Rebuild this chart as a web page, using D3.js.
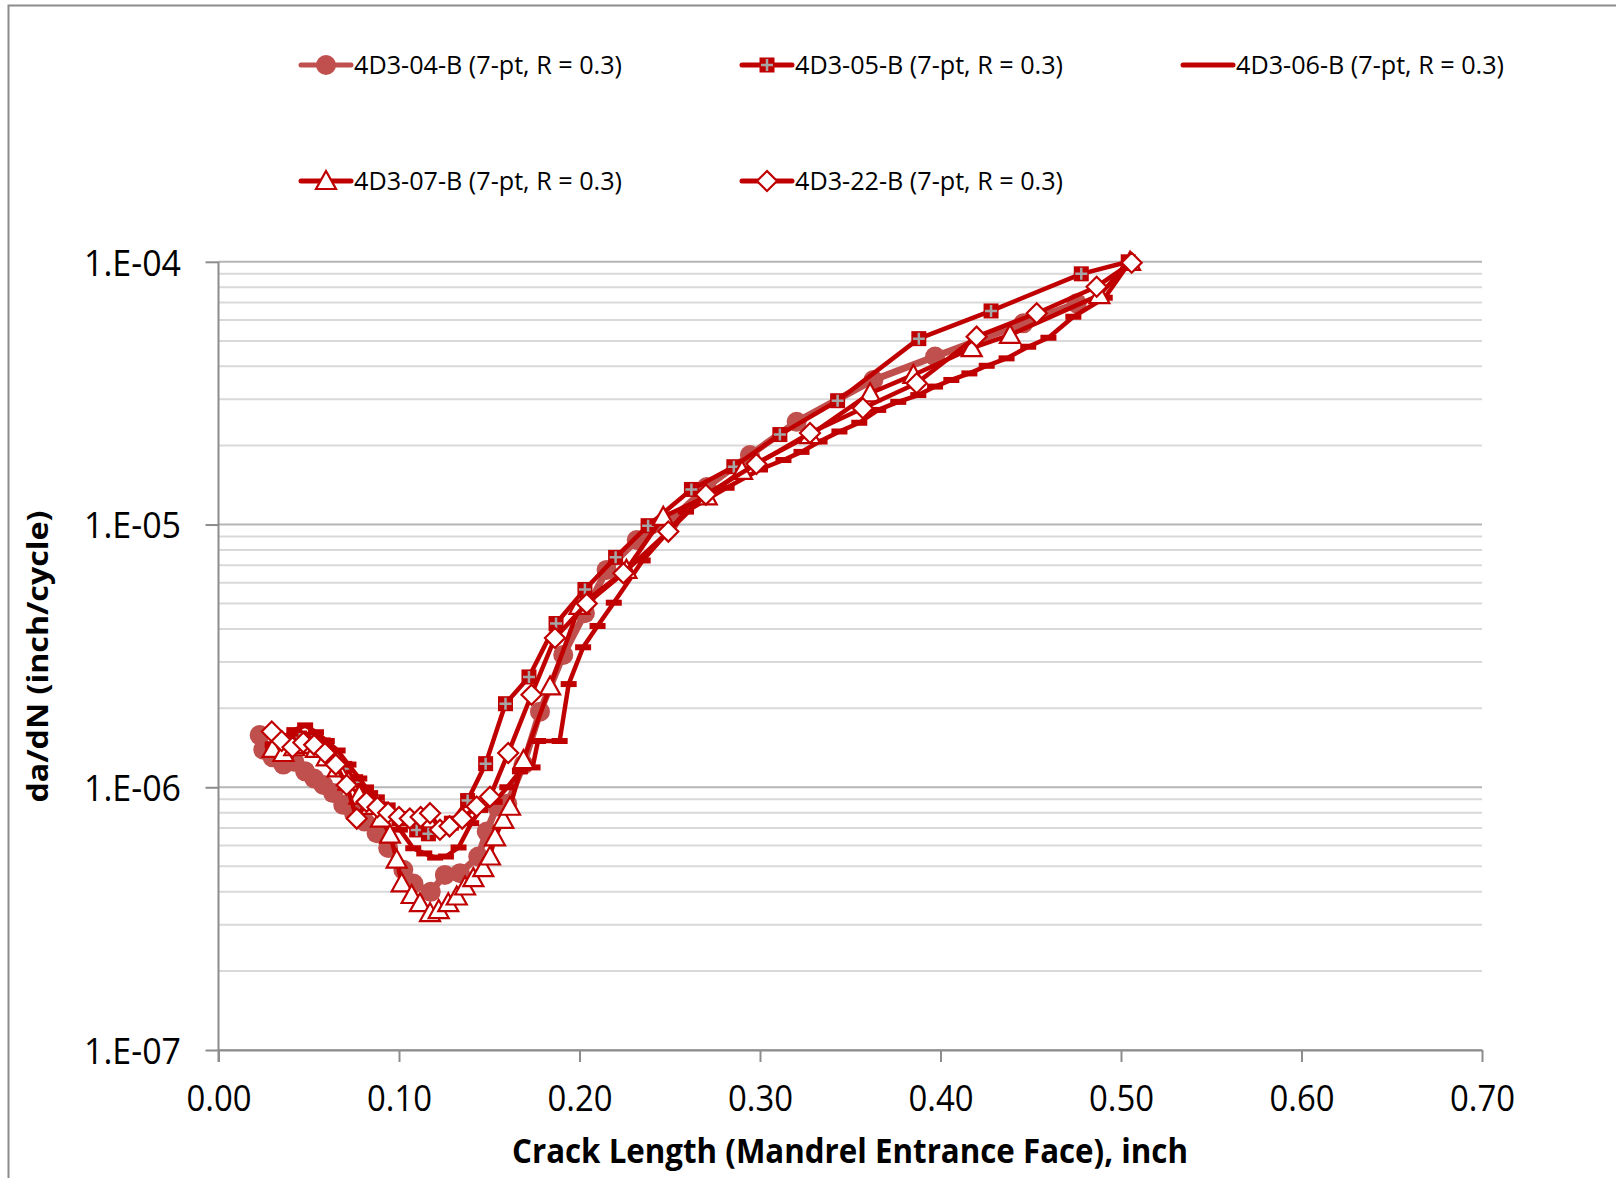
<!DOCTYPE html>
<html><head><meta charset="utf-8">
<script src="https://cdn.jsdelivr.net/npm/d3@7/dist/d3.min.js"></script>
<style>body{margin:0;background:#fff}svg{display:block}</style>
</head><body><svg id="c" width="1616" height="1178"></svg>
<script>
// ---- data ----
const seriesNames = ["4D3-04-B (7-pt, R = 0.3)","4D3-05-B (7-pt, R = 0.3)","4D3-06-B (7-pt, R = 0.3)","4D3-07-B (7-pt, R = 0.3)","4D3-22-B (7-pt, R = 0.3)"];
const xTicks = [0,0.1,0.2,0.3,0.4,0.5,0.6,0.7];
const yTicks = [1e-7,1e-6,1e-5,1e-4];
const yTickLabels = ["1.E-07","1.E-06","1.E-05","1.E-04"];
const xTitle = "Crack Length (Mandrel Entrance Face), inch";
const yTitle = "da/dN (inch/cycle)";

const s04_x = [0.0228,0.0248,0.030,0.0359,0.042,0.048,0.053,0.0581,0.0635,0.0691,0.075,0.081,0.0876,0.094,0.1024,0.108,0.1176,0.1254,0.1338,0.1439,0.1486,0.1541,0.160,0.169,0.1781,0.191,0.203,0.215,0.2317,0.2501,0.2705,0.2944,0.3203,0.3628,0.397,0.4459,0.4755];
const s04_y = [1.58e-6,1.39e-6,1.30e-6,1.22e-6,1.25e-6,1.15e-6,1.08e-6,1.02e-6,9.5e-7,8.57e-7,8.0e-7,7.4e-7,6.69e-7,5.87e-7,4.85e-7,4.3e-7,4.0e-7,4.64e-7,4.71e-7,5.45e-7,6.78e-7,8.45e-7,8.65e-7,1.22e-6,1.94e-6,3.19e-6,4.6e-6,6.72e-6,8.73e-6,1.03e-5,1.39e-5,1.84e-5,2.46e-5,3.55e-5,4.36e-5,5.83e-5,6.95e-5];

const s05_x = [0.030,0.038,0.045,0.052,0.058,0.064,0.070,0.076,0.082,0.088,0.094,0.100,0.1098,0.1163,0.129,0.138,0.148,0.159,0.172,0.187,0.203,0.220,0.238,0.262,0.2855,0.311,0.343,0.388,0.428,0.478,0.504];
const s05_y = [1.40e-6,1.50e-6,1.54e-6,1.52e-6,1.45e-6,1.32e-6,1.18e-6,1.05e-6,9.6e-7,8.8e-7,8.2e-7,7.6e-7,6.88e-7,6.65e-7,7.3e-7,8.9e-7,1.23e-6,2.08e-6,2.63e-6,4.2e-6,5.66e-6,7.5e-6,9.9e-6,1.36e-5,1.66e-5,2.2e-5,2.96e-5,5.1e-5,6.5e-5,9.0e-5,1.0e-4];

const s06_x = [0.030,0.036,0.042,0.048,0.054,0.060,0.066,0.072,0.078,0.084,0.090,0.096,0.1005,0.1079,0.114,0.120,0.126,0.133,0.140,0.1449,0.153,0.160,0.167,0.174,0.177,0.189,0.194,0.202,0.210,0.219,0.235,0.259,0.2815,0.300,0.313,0.323,0.333,0.344,0.355,0.3655,0.3766,0.3877,0.397,0.406,0.416,0.4256,0.4366,0.4486,0.4598,0.4736,0.491,0.505];
const s06_y = [1.45e-6,1.55e-6,1.65e-6,1.72e-6,1.62e-6,1.50e-6,1.38e-6,1.22e-6,1.08e-6,9.5e-7,8.6e-7,7.8e-7,6.9e-7,5.86e-7,5.6e-7,5.4e-7,5.45e-7,5.9e-7,7.3e-7,8.2e-7,8.8e-7,1.0e-6,1.15e-6,1.19e-6,1.5e-6,1.5e-6,2.47e-6,3.41e-6,4.11e-6,5.04e-6,7.3e-6,1.12e-5,1.38e-5,1.62e-5,1.76e-5,1.89e-5,2.07e-5,2.26e-5,2.44e-5,2.73e-5,2.93e-5,3.11e-5,3.35e-5,3.55e-5,3.76e-5,4.02e-5,4.29e-5,4.75e-5,5.14e-5,6.18e-5,7.3e-5,1.0e-4];

const s07_x = [0.030,0.036,0.042,0.048,0.054,0.060,0.066,0.072,0.078,0.084,0.090,0.095,0.0987,0.1015,0.107,0.1116,0.1172,0.122,0.1273,0.132,0.1366,0.1412,0.1467,0.1504,0.1532,0.1578,0.1615,0.169,0.1837,0.200,0.226,0.2464,0.2705,0.29,0.3277,0.361,0.385,0.4173,0.4385,0.488,0.505];
const s07_y = [1.40e-6,1.35e-6,1.42e-6,1.45e-6,1.40e-6,1.30e-6,1.18e-6,1.05e-6,9.3e-7,8.5e-7,7.6e-7,6.6e-7,5.3e-7,4.31e-7,3.89e-7,3.62e-7,3.32e-7,3.41e-7,3.62e-7,3.84e-7,4.19e-7,4.51e-7,4.92e-7,5.45e-7,6.45e-7,7.52e-7,8.43e-7,1.27e-6,2.42e-6,4.9e-6,6.72e-6,1.07e-5,1.28e-5,1.6e-5,2.19e-5,3.16e-5,3.71e-5,4.69e-5,5.27e-5,7.47e-5,1.0e-4];

const s22_x = [0.0295,0.035,0.041,0.047,0.053,0.059,0.065,0.071,0.0766,0.082,0.088,0.094,0.100,0.106,0.112,0.1172,0.1227,0.128,0.135,0.143,0.1504,0.1605,0.1734,0.1864,0.204,0.2243,0.2492,0.27,0.298,0.3277,0.357,0.3868,0.42,0.4533,0.4865,0.5059];
const s22_y = [1.63e-6,1.50e-6,1.42e-6,1.48e-6,1.45e-6,1.35e-6,1.22e-6,1.02e-6,7.6e-7,8.8e-7,8.4e-7,8.0e-7,7.7e-7,7.6e-7,7.7e-7,7.97e-7,6.89e-7,7.1e-7,7.6e-7,8.45e-7,9.2e-7,1.35e-6,2.25e-6,3.7e-6,5.0e-6,6.53e-6,9.4e-6,1.3e-5,1.7e-5,2.23e-5,2.77e-5,3.45e-5,5.19e-5,6.37e-5,8.04e-5,9.92e-5];

// ---- setup ----
const svg = d3.select("#c");
const L = 218.5, R = 1482, T = 261.8, B = 1050;
const x = d3.scaleLinear().domain([0,0.7]).range([L,R]);
const y = d3.scaleLog().domain([1e-7,1e-4]).range([B,T]);
const DARK = "#C00000", LIGHT = "#C0504D";
const FONT = "'Open Sans', 'Liberation Sans', sans-serif";

// outer border
svg.append("rect").attr("x",8.5).attr("y",5.5).attr("width",1640).attr("height",1200)
  .attr("fill","none").attr("stroke","#8c8c8c").attr("stroke-width",2);

// gridlines
const allY = y.ticks();
svg.append("g").selectAll("line").data(allY).join("line")
  .attr("x1",L).attr("x2",R).attr("y1",d=>y(d)).attr("y2",d=>y(d))
  .attr("stroke",d=>{const m=Math.abs(Math.log10(d)-Math.round(Math.log10(d)))<1e-9; return m?"#b5b5b5":"#d9d9d9";})
  .attr("stroke-width",2);

// axes
const xAxis = svg.append("g").attr("transform",`translate(0,${B})`)
  .call(d3.axisBottom(x).tickValues(xTicks).tickSize(12).tickSizeOuter(0).tickFormat(d3.format(".2f")));
xAxis.select(".domain").attr("stroke","#8c8c8c").attr("stroke-width",2);
xAxis.selectAll(".tick line").attr("stroke","#8c8c8c").attr("stroke-width",2);
xAxis.selectAll(".tick text").attr("y",35).attr("dy","0.71em")
  .attr("font-family",FONT).attr("font-size",37).attr("fill","#000")
  .attr("textLength",65).attr("lengthAdjust","spacingAndGlyphs");

const yAxis = svg.append("g").attr("transform",`translate(${L},0)`)
  .call(d3.axisLeft(y).tickValues(yTicks).tickSize(13).tickSizeOuter(0).tickFormat((d,i)=>yTickLabels[i]));
yAxis.select(".domain").attr("stroke","#8c8c8c").attr("stroke-width",2)
  .attr("d",`M0,${T}V${B+12}`);
yAxis.selectAll(".tick line").attr("stroke","#8c8c8c").attr("stroke-width",2);
yAxis.selectAll(".tick text").attr("x",-37.5).attr("dy","0.36em")
  .attr("font-family",FONT).attr("font-size",37).attr("fill","#000")
  .attr("textLength",97).attr("lengthAdjust","spacingAndGlyphs");

// axis titles
svg.append("text").attr("x",850).attr("y",1163).attr("text-anchor","middle")
  .attr("font-family",FONT).attr("font-weight","bold").attr("font-size",34)
  .attr("textLength",676).attr("lengthAdjust","spacingAndGlyphs").text(xTitle);
svg.append("text").attr("transform","translate(48,656.5) rotate(-90)").attr("text-anchor","middle")
  .attr("font-family",FONT).attr("font-weight","bold").attr("font-size",28)
  .attr("textLength",292).attr("lengthAdjust","spacingAndGlyphs").text(yTitle);

// ---- marker drawers ----
function mCircle(g,cx,cy){ g.append("circle").attr("cx",cx).attr("cy",cy).attr("r",10).attr("fill",LIGHT); }
function mSquare(g,cx,cy){
  g.append("rect").attr("x",cx-7.5).attr("y",cy-7.5).attr("width",15).attr("height",15).attr("fill",DARK);
  g.append("path").attr("d",`M${cx-6},${cy}H${cx+6}M${cx},${cy-6}V${cy+6}`).attr("stroke","#a6a6a6").attr("stroke-width",2.5);
}
function mDash(g,cx,cy){ g.append("rect").attr("x",cx-8).attr("y",cy-3).attr("width",16).attr("height",6).attr("fill",DARK); }
function mTri(g,cx,cy){
  g.append("path").attr("d",`M${cx},${cy-10}L${cx+10},${cy+8}L${cx-10},${cy+8}Z`)
   .attr("fill","#fff").attr("stroke",DARK).attr("stroke-width",2.2);
}
function mDia(g,cx,cy){
  g.append("path").attr("d",`M${cx},${cy-10}L${cx+10},${cy}L${cx},${cy+10}L${cx-10},${cy}Z`)
   .attr("fill","#fff").attr("stroke",DARK).attr("stroke-width",2.2);
}

const series = [
  {xs:s04_x, ys:s04_y, color:LIGHT, w:7, m:mCircle},
  {xs:s05_x, ys:s05_y, color:DARK, w:4.5, m:mSquare},
  {xs:s06_x, ys:s06_y, color:DARK, w:4.5, m:mDash},
  {xs:s07_x, ys:s07_y, color:DARK, w:4.5, m:mTri},
  {xs:s22_x, ys:s22_y, color:DARK, w:4.5, m:mDia}
];

const line = d3.line().x(d=>x(d[0])).y(d=>y(d[1]));
series.forEach(s=>{
  const pts = s.xs.map((v,i)=>[v,s.ys[i]]);
  const g = svg.append("g");
  g.append("path").attr("d",line(pts)).attr("fill","none").attr("stroke",s.color)
    .attr("stroke-width",s.w).attr("stroke-linejoin","round").attr("stroke-linecap","round");
  pts.forEach(p=>s.m(g,x(p[0]),y(p[1])));
});

// ---- legend ----
const legPos = [[301,65],[742,65],[1183,65],[301,181],[742,181]];
series.forEach((s,i)=>{
  const [lx,ly] = legPos[i];
  const g = svg.append("g");
  g.append("line").attr("x1",lx).attr("x2",lx+50).attr("y1",ly).attr("y2",ly)
    .attr("stroke",s.color).attr("stroke-width",5).attr("stroke-linecap","round");
  if(i!==2) s.m(g,lx+25,ly);
  g.append("text").attr("x",lx+53).attr("y",ly).attr("dy","0.36em")
    .attr("font-family",FONT).attr("font-size",25).attr("fill","#000")
    .attr("textLength",268).attr("lengthAdjust","spacingAndGlyphs").text(seriesNames[i]);
});
</script></body></html>
